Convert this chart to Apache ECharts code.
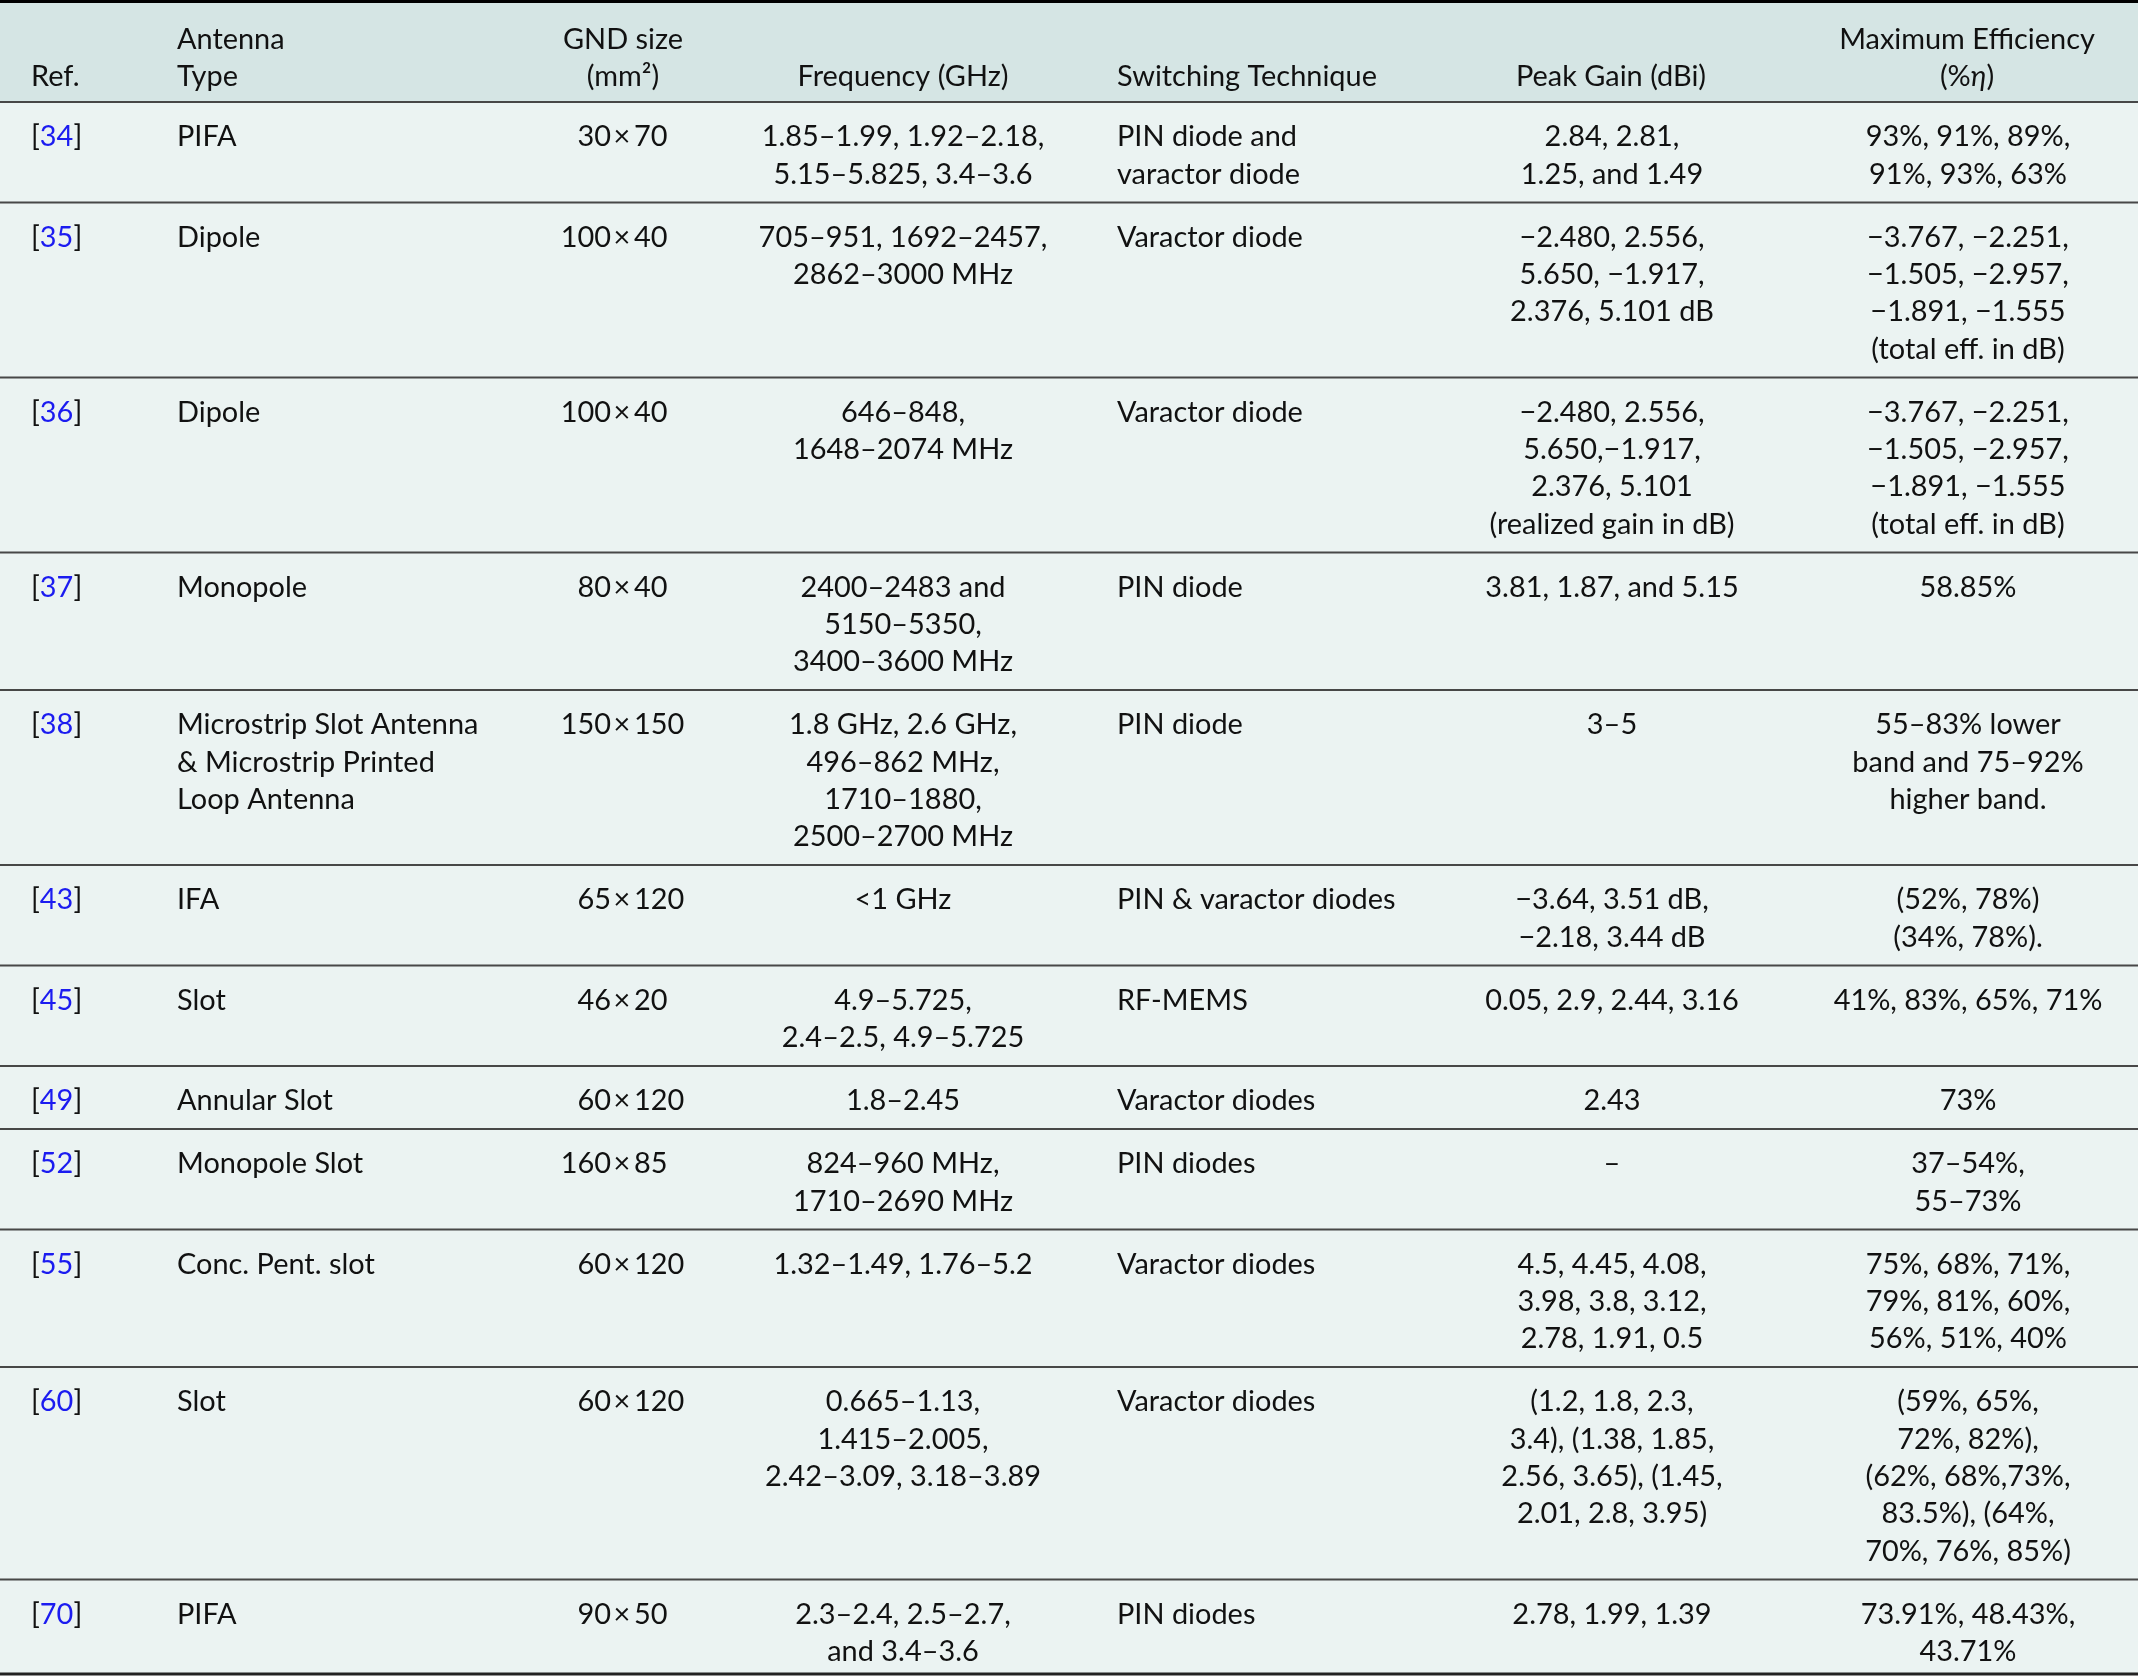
<!DOCTYPE html>
<html><head><meta charset="utf-8">
<script src="https://cdn.jsdelivr.net/npm/echarts@6/dist/echarts.min.js"></script>
<style>html,body{margin:0;padding:0;background:#fff}#chart{width:2138px;height:1676px}</style>
</head><body><div id="chart"></div>
<script>
// ---------- DATA ----------
const headers = ['Ref.', 'Antenna\nType', 'GND size\n(mm²)', 'Frequency (GHz)', 'Switching Technique', 'Peak Gain (dBi)', 'Maximum Efficiency\n(%{i|η})'];
const refs = ['34','35','36','37','38','43','45','49','52','55','60','70'];
const antennaTypes = ['PIFA','Dipole','Dipole','Monopole','Microstrip Slot Antenna\n& Microstrip Printed\nLoop Antenna','IFA','Slot','Annular Slot','Monopole Slot','Conc. Pent. slot','Slot','PIFA'];
const gndWidths = ['30','100','100','80','150','65','46','60','160','60','60','90'];
const gndHeights = ['70','40','40','40','150','120','20','120','85','120','120','50'];
const frequencies = [
  '1.85–1.99, 1.92–2.18,\n5.15–5.825, 3.4–3.6',
  '705–951, 1692–2457,\n2862–3000 MHz',
  '646–848,\n1648–2074 MHz',
  '2400–2483 and\n5150–5350,\n3400–3600 MHz',
  '1.8 GHz, 2.6 GHz,\n496–862 MHz,\n1710–1880,\n2500–2700 MHz',
  '<1 GHz',
  '4.9–5.725,\n2.4–2.5, 4.9–5.725',
  '1.8–2.45',
  '824–960 MHz,\n1710–2690 MHz',
  '1.32–1.49, 1.76–5.2',
  '0.665–1.13,\n1.415–2.005,\n2.42–3.09, 3.18–3.89',
  '2.3–2.4, 2.5–2.7,\nand 3.4–3.6'
];
const switching = ['PIN diode and\nvaractor diode','Varactor diode','Varactor diode','PIN diode','PIN diode','PIN & varactor diodes','RF-MEMS','Varactor diodes','PIN diodes','Varactor diodes','Varactor diodes','PIN diodes'];
const peakGain = [
  '2.84, 2.81,\n1.25, and 1.49',
  '−2.480, 2.556,\n5.650, −1.917,\n2.376, 5.101 dB',
  '−2.480, 2.556,\n5.650,−1.917,\n2.376, 5.101\n(realized gain in dB)',
  '3.81, 1.87, and 5.15',
  '3–5',
  '−3.64, 3.51 dB,\n−2.18, 3.44 dB',
  '0.05, 2.9, 2.44, 3.16',
  '2.43',
  '–',
  '4.5, 4.45, 4.08,\n3.98, 3.8, 3.12,\n2.78, 1.91, 0.5',
  '(1.2, 1.8, 2.3,\n3.4), (1.38, 1.85,\n2.56, 3.65), (1.45,\n2.01, 2.8, 3.95)',
  '2.78, 1.99, 1.39'
];
const maxEfficiency = [
  '93%, 91%, 89%,\n91%, 93%, 63%',
  '−3.767, −2.251,\n−1.505, −2.957,\n−1.891, −1.555\n(total eff. in dB)',
  '−3.767, −2.251,\n−1.505, −2.957,\n−1.891, −1.555\n(total eff. in dB)',
  '58.85%',
  '55–83% lower\nband and 75–92%\nhigher band.',
  '(52%, 78%)\n(34%, 78%).',
  '41%, 83%, 65%, 71%',
  '73%',
  '37–54%,\n55–73%',
  '75%, 68%, 71%,\n79%, 81%, 60%,\n56%, 51%, 40%',
  '(59%, 65%,\n72%, 82%),\n(62%, 68%,73%,\n83.5%), (64%,\n70%, 76%, 85%)',
  '73.91%, 48.43%,\n43.71%'
];

// ---------- LAYOUT ----------
const W = 2138, H = 1676;
const FAMILY = 'Lato, "Noto Sans", sans-serif';
function fitFontSize() {
  try {
    const c = document.createElement('canvas').getContext('2d');
    c.font = '100px Lato';
    const s = [['Varactor diode',190],['Frequency (GHz)',212],['Peak Gain (dBi)',193],['Maximum Efficiency',235],['Switching Technique',270]];
    let acc = 0; s.forEach(([t,w]) => { acc += w / c.measureText(t).width * 100; });
    return Math.max(26, Math.min(32, acc / s.length));
  } catch (e) { return 30; }
}
const FS = fitFontSize();
const LINE = 37.3, PAD = 25.8, HEADER_BOTTOM = 102, TOP_PAD = 35;
const TEXT = '#111111', LINK = '#1b1bf0';
const HEAD_BG = '#d5e5e4', BODY_BG = '#ebf3f2', RULE = '#474747';

const nLines = s => s.split('\n').length;
const rowTops = [], rowBottoms = [];
let yCur = HEADER_BOTTOM;
refs.forEach((r, i) => {
  const n = Math.max(nLines(antennaTypes[i]), nLines(frequencies[i]), nLines(switching[i]), nLines(peakGain[i]), nLines(maxEfficiency[i]));
  rowTops.push(yCur);
  yCur = yCur + PAD + LINE * n;
  rowBottoms.push(Math.min(yCur, H - 2));
});

const COL = { ref: 31, type: 177, gndX: 622, freq: 903, sw: 1117, gain: 1612, eff: 1968 };
const HEAD_X = [31, 177, 623, 903, 1117, 1611, 1967];
const HEAD_ALIGN = ['left','left','center','center','left','center','center'];

function txt(api, x, y, text, align, vAlign, extra) {
  const p = api.coord([x, y]);
  return {
    type: 'text', z2: 10,
    style: Object.assign({
      text: text, x: p[0], y: p[1], align: align, verticalAlign: vAlign,
      fontSize: FS, fontFamily: FAMILY, fill: TEXT, lineHeight: LINE
    }, extra || {})
  };
}
function hline(api, y, w, color) {
  const a = api.coord([0, y]), b = api.coord([W, y]);
  return { type: 'line', z2: 5, shape: { x1: a[0], y1: a[1], x2: b[0], y2: b[1] }, style: { stroke: color, lineWidth: w } };
}
function rect(api, y0, y1, color) {
  const a = api.coord([0, y0]), b = api.coord([W, y1]);
  return { type: 'rect', z2: 0, shape: { x: a[0], y: a[1], width: b[0] - a[0], height: b[1] - a[1] }, style: { fill: color } };
}

function renderHeader(params, api) {
  const ch = [rect(api, 0, HEADER_BOTTOM, HEAD_BG)];
  headers.forEach((h, j) => {
    ch.push(txt(api, HEAD_X[j], 76.5 + LINE / 2, h, HEAD_ALIGN[j], 'bottom', {
      rich: { i: { fontStyle: 'italic', fontSize: FS, fontFamily: FAMILY, fill: TEXT, lineHeight: LINE } }
    }));
  });
  ch.push(hline(api, 1.5, 3, '#000'));
  ch.push(hline(api, HEADER_BOTTOM, 2, RULE));
  return { type: 'group', children: ch };
}

function renderRow(params, api) {
  const i = api.value(1);
  const top = rowTops[i], bot = rowBottoms[i];
  const y = top + TOP_PAD - LINE / 2;
  const isLast = i === refs.length - 1;
  const ch = [rect(api, top, bot, BODY_BG)];
  ch.push(txt(api, COL.ref, y, '{b|[}{n|' + refs[i] + '}{b|]}', 'left', 'top', {
    rich: {
      b: { fill: TEXT, color: TEXT, fontSize: FS, fontFamily: FAMILY, lineHeight: LINE },
      n: { fill: LINK, color: LINK, fontSize: FS, fontFamily: FAMILY, lineHeight: LINE }
    }
  }));
  ch.push(txt(api, COL.type, y, antennaTypes[i], 'left', 'top'));
  ch.push(txt(api, COL.gndX - 11, y, gndWidths[i], 'right', 'top'));
  ch.push(txt(api, COL.gndX, y, '×', 'center', 'top'));
  ch.push(txt(api, COL.gndX + 12, y, gndHeights[i], 'left', 'top'));
  ch.push(txt(api, COL.freq, y, frequencies[i], 'center', 'top'));
  ch.push(txt(api, COL.sw, y, switching[i], 'left', 'top'));
  ch.push(txt(api, COL.gain, y, peakGain[i], 'center', 'top'));
  ch.push(txt(api, COL.eff, y, maxEfficiency[i], 'center', 'top'));
  ch.push(hline(api, bot, isLast ? 3 : 2, isLast ? '#222' : RULE));
  return { type: 'group', children: ch };
}

const chart = echarts.init(document.getElementById('chart'), null, { renderer: 'canvas' });
chart.setOption({
  backgroundColor: '#ffffff',
  animation: false,
  grid: { left: 0, right: 0, top: 0, bottom: 0 },
  xAxis: { type: 'value', min: 0, max: W, show: false },
  yAxis: { type: 'value', min: 0, max: H, inverse: true, show: false },
  series: [
    { type: 'custom', name: 'header', coordinateSystem: 'cartesian2d', clip: false, silent: true,
      renderItem: renderHeader, data: [[0, 0]] },
    { type: 'custom', name: 'rows', coordinateSystem: 'cartesian2d', clip: false, silent: true,
      renderItem: renderRow, data: refs.map((r, i) => [0, i]) }
  ]
});
</script></body></html>
